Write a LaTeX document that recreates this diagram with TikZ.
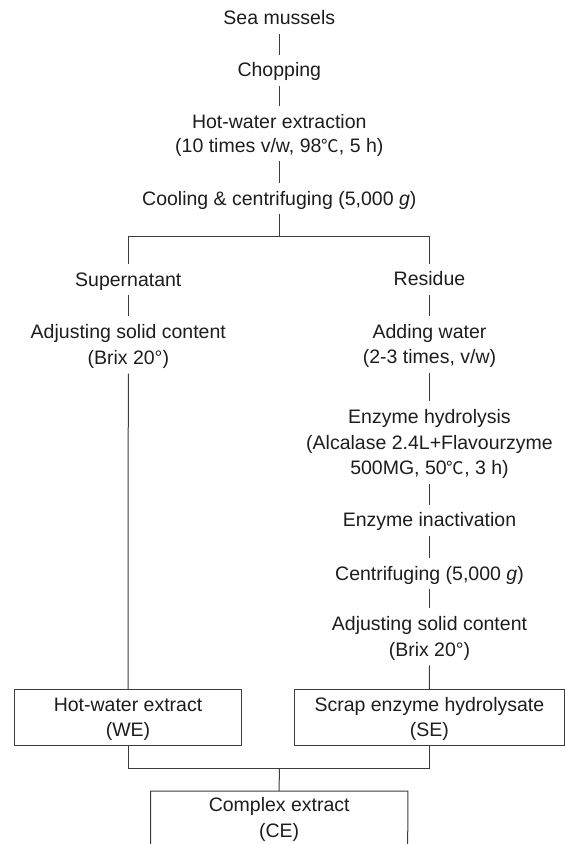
\documentclass[tikz,border=0pt]{standalone}
\usepackage{fontspec}
\setmainfont{Liberation Sans}
\newfontfamily\cjkfont{Noto Sans CJK KR}
\newcommand\degC{{\cjkfont\fontsize{17.5}{17.5}\selectfont ℃}}
\newcommand\tst{\rule{0pt}{19pt}}
\newcommand\bst{\rule[-6pt]{0pt}{6pt}}
\definecolor{ink}{RGB}{30,28,28}
\definecolor{linec}{RGB}{60,60,60}
\begin{document}
\begin{tikzpicture}[x=1pt,y=-1pt,
  every node/.style={font=\fontsize{19.5}{25.5}\selectfont, text=ink},
  stepnode/.style={anchor=north, align=center, inner sep=0pt, inner ysep=3pt},
  boxnode/.style={draw=linec, line width=1pt, align=center, inner sep=0pt, minimum height=55.7pt},
  link/.style={draw=linec, line width=1pt}]
\useasboundingbox (0,0) rectangle (565,844);

% main trunk
\node[stepnode] (sea) at (279.3,2.3) {\tst Sea mussels\bst};
\node[stepnode] (chop) at (279.3,54.7) {\tst Chopping\bst};
\node[stepnode] (hot) at (279.3,106.3) {\tst Hot-water extraction\\[-2pt](10 times v/w, 98\degC, 5 h)\bst};
\node[stepnode] (cool) at (279.3,183) {\tst Cooling \& centrifuging (5,000 \textit{g})\bst};

% left branch
\node[stepnode] (sup) at (128.3,264) {\tst Supernatant\bst};
\node[stepnode] (adjL) at (128.3,316.3) {\tst Adjusting solid content\\[0.5pt](Brix 20°)\bst};

% right branch
\node[stepnode] (res) at (429.5,263.7) {\tst Residue\bst};
\node[stepnode] (addw) at (429.5,316.3) {\tst Adding water\\[-0.5pt](2-3 times, v/w)\bst};
\node[stepnode] (hyd) at (429.5,401.3) {\tst Enzyme hydrolysis\\(Alcalase 2.4L+Flavourzyme\\500MG, 50\degC, 3 h)\bst};
\node[stepnode] (inact) at (429.5,504.7) {\tst Enzyme inactivation\bst};
\node[stepnode] (cent) at (429.5,558) {\tst Centrifuging (5,000 \textit{g})\bst};
\node[stepnode] (adjR) at (429.5,608) {\tst Adjusting solid content\\[0.5pt](Brix 20°)\bst};

% boxes
\node[boxnode, minimum width=227.4pt] (we) at (128,717.15) {\rule{0pt}{18pt}Hot-water extract\\(WE)};
\node[boxnode, minimum width=270.2pt] (se) at (429.4,717.15) {\rule{0pt}{18pt}Scrap enzyme hydrolysate\\(SE)};
\node[anchor=north, align=center, inner sep=0pt, minimum width=257pt] (ce) at (279.2,791) {\rule{0pt}{20.7pt}Complex extract\\(CE)};
\coordinate (ceSW) at (150.7,844);
\coordinate (ceSE) at (407.7,844);
\draw[link] (ceSW) |- (ce.north east) -- (ceSE);

% connectors
\coordinate (splitc) at (279.3,236.7);
\coordinate (joinc) at (279.3,768.3);
\draw[link] (sea) -- (chop);
\draw[link] (chop) -- (hot);
\draw[link] (hot) -- (cool);
\draw[link] (cool) -- (splitc);
\draw[link] (sup.north) |- (splitc) -| (res.north);
\draw[link] (sup) -- (adjL);
\draw[link] (adjL.south) -- (we.north);
\draw[link] (res) -- (addw);
\draw[link] (addw) -- (hyd);
\draw[link] (hyd) -- (inact);
\draw[link] (inact) -- (cent);
\draw[link] (cent) -- (adjR);
\draw[link] (adjR.south) -- (se.north);
\draw[link] (we.south) |- (joinc) -| (se.south);
\draw[link] (joinc) -- (ce.north);
\end{tikzpicture}
\end{document}
